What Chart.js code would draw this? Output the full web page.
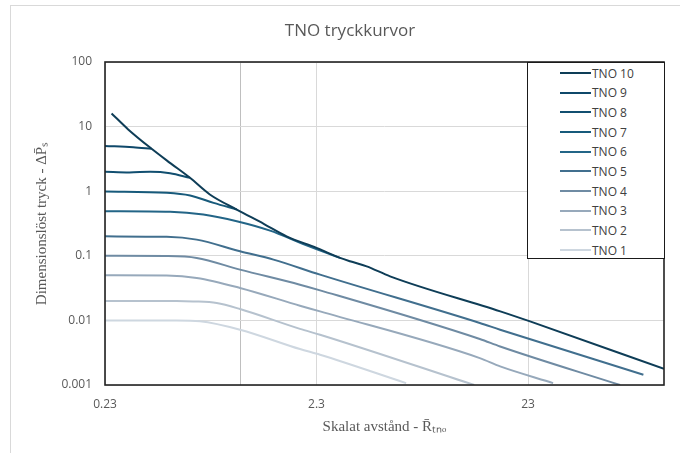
<!DOCTYPE html>
<html>
<head>
<meta charset="utf-8">
<script src="https://cdn.jsdelivr.net/npm/chart.js@4.4.1/dist/chart.umd.min.js"></script>
<style>
  html,body{margin:0;padding:0;background:#fff;}
  #wrap{position:relative;width:680px;height:453px;overflow:hidden;}
  #legend{position:absolute;left:527px;top:62px;width:136px;height:195px;background:#fff;border:1.5px solid #1a1a1a;}
  .li{position:absolute;left:32px;height:14px;display:flex;align-items:center;font-family:"Open Sans",sans-serif;font-size:12px;color:#404040;}
  .li span.sw{display:inline-block;width:31px;height:2px;margin-right:1px;}
</style>
</head>
<body>
<div id="wrap">
  <canvas id="c" width="680" height="453"></canvas>
  <div id="legend"></div>
</div>
<script>
// axis ticks
const xTickVals = [0.23, 1, 2.3, 23];
const xTickLabels = ["0.23", "", "2.3", "23"];
const yTickVals = [0.001, 0.01, 0.1, 1, 10, 100];
const yTickLabels = ["0.001", "0.01", "0.1", "1", "10", "100"];

const names = ["TNO 10","TNO 9","TNO 8","TNO 7","TNO 6","TNO 5","TNO 4","TNO 3","TNO 2","TNO 1"];
const colors = ["#0e3d57","#0f486a","#114f70","#175a7b","#236587","#416f8e","#6f8ba3","#97a9bb","#b6c2ce","#ced7e0"];

// TNO 10 - common envelope the strong curves run into
const envX = [0.247, 0.296, 0.382, 0.47, 0.58, 0.72, 0.965, 1.3, 1.66, 2.3, 2.97, 3.31, 3.97, 5.12, 17, 23.5, 101];
const envY = [16, 9.05, 4.54, 2.7, 1.61, 0.89, 0.52, 0.31, 0.2, 0.1325, 0.0927, 0.0822, 0.0687, 0.0481, 0.0138, 0.00964, 0.00178];

// heads of curves that merge into the envelope (+ index of the envelope point where they join,
// after that they lie under TNO 10)
const tno9X = [0.23, 0.313], tno9Y = [5.0, 4.81], tno9Join = 2;
const tno8X = [0.23, 0.30, 0.376, 0.467], tno8Y = [2.0, 1.95, 2.0, 1.9], tno8Join = 4;
const tno7X = [0.23, 0.451, 0.581, 0.75], tno7Y = [0.99, 0.944, 0.857, 0.66], tno7Join = 6;
const tno6X = [0.23, 0.467, 0.671, 0.965, 1.387, 1.99], tno6Y = [0.49, 0.48, 0.435, 0.343, 0.245, 0.152], tno6Join = 10;

// weaker curves
const tno5X = [0.23, 0.45, 0.624, 1.0, 1.44, 2.39, 13.6, 16.97, 80.7];
const tno5Y = [0.2, 0.197, 0.178, 0.1175, 0.0873, 0.0511, 0.00912, 0.00718, 0.00144];
const tno4X = [0.23, 0.45, 0.624, 1.0, 1.92, 2.39, 13.6, 16.97, 62.6];
const tno4Y = [0.1, 0.099, 0.0927, 0.0611, 0.0357, 0.0292, 0.00515, 0.00395, 0.001];
const tno3X = [0.23, 0.45, 0.624, 1.0, 1.92, 2.39, 13.6, 16.97, 30.2];
const tno3Y = [0.05, 0.0495, 0.0454, 0.0318, 0.0169, 0.0138, 0.00261, 0.00194, 0.00107];
const tno2X = [0.23, 0.5, 0.6, 0.776, 1.0, 1.92, 2.39, 12.8];
const tno2Y = [0.02, 0.02, 0.0197, 0.0186, 0.015, 0.0074, 0.006, 0.001];
const tno1X = [0.23, 0.5, 0.647, 1.0, 1.92, 2.39, 6.1];
const tno1Y = [0.01, 0.01, 0.0097, 0.00718, 0.0036, 0.00294, 0.00107];

const pts = (xs, ys) => xs.map((x,i)=>({x, y: ys[i]}));
const toEnv = (xs, ys, j) => pts(xs, ys).concat([{ x: envX[j], y: envY[j] }]);

const series = [
  pts(envX, envY),
  toEnv(tno9X, tno9Y, tno9Join),
  toEnv(tno8X, tno8Y, tno8Join),
  toEnv(tno7X, tno7Y, tno7Join),
  toEnv(tno6X, tno6Y, tno6Join),
  pts(tno5X, tno5Y),
  pts(tno4X, tno4Y),
  pts(tno3X, tno3Y),
  pts(tno2X, tno2Y),
  pts(tno1X, tno1Y)
];

const frame = {
  id: "frame",
  beforeDraw(chart) {
    const ctx = chart.ctx;
    ctx.save();
    ctx.strokeStyle = "#d9d9d9"; ctx.lineWidth = 1;
    ctx.strokeRect(10.5, 5.5, 720, 500);
    ctx.fillStyle = "#595959";
    ctx.font = '17px "Open Sans", sans-serif';
    ctx.textAlign = "center"; ctx.textBaseline = "middle";
    ctx.fillText("TNO tryckkurvor", 350, 31);
    ctx.restore();
  },
  afterDraw(chart) {
    const a = chart.chartArea, ctx = chart.ctx;
    ctx.save();
    ctx.strokeStyle = "#222"; ctx.lineWidth = 1.6;
    ctx.strokeRect(a.left, a.top, a.right - a.left, a.bottom - a.top);
    ctx.restore();
  }
};

const chart = new Chart(document.getElementById("c"), {
  type: "line",
  data: {
    datasets: series.map((d,i)=>({
      label: names[i], data: d, borderColor: colors[i], backgroundColor: colors[i],
      borderWidth: 2, pointRadius: 0, cubicInterpolationMode: "monotone", fill: false
    }))
  },
  options: {
    responsive: false, animation: false,
    layout: { padding: { left: 10, right: 16, top: 62, bottom: 0 } },
    plugins: { legend: { display: false }, tooltip: { enabled: false } },
    scales: {
      x: {
        type: "logarithmic", min: 0.23, max: 101,
        afterFit: s => { s.height = 68; },
        afterBuildTicks: s => { s.ticks = xTickVals.map(v => ({ value: v })); },
        grid: { color: c => c.tick && c.tick.value === 1 ? "#bfbfbf" : "#d9d9d9", drawTicks: false },
        border: { display: false },
        ticks: { autoSkip: false, maxRotation: 0, padding: 12, color: "#595959",
          font: { family: "Open Sans", size: 12 },
          callback: (v, i) => xTickLabels[i] },
        title: { display: true, text: "Skalat avstånd - R\u0304\u209C\u2099\u2092", color: "#595959",
          font: { family: "Liberation Serif", size: 15 }, padding: { top: 0, bottom: 17 } }
      },
      y: {
        type: "logarithmic", min: 0.001, max: 100,
        afterFit: s => { s.width = 95; },
        afterBuildTicks: s => { s.ticks = yTickVals.map(v => ({ value: v })); },
        grid: { color: "#d9d9d9", drawTicks: false },
        border: { display: false },
        ticks: { autoSkip: false, padding: 13, color: "#595959",
          font: { family: "Open Sans", size: 12 },
          callback: (v, i) => yTickLabels[i] },
        title: { display: true, text: "Dimensionslöst tryck - \u0394P\u0304\u209B", color: "#595959",
          font: { family: "Liberation Serif", size: 15 }, padding: { top: 23, bottom: 0 } }
      }
    }
  },
  plugins: [frame]
});

document.getElementById("legend").innerHTML = chart.data.datasets.map((d,i)=>
  `<div class="li" style="top:${3 + i*19.67}px"><span class="sw" style="background:${d.borderColor}"></span>${d.label}</div>`
).join("");
</script>
</body>
</html>
